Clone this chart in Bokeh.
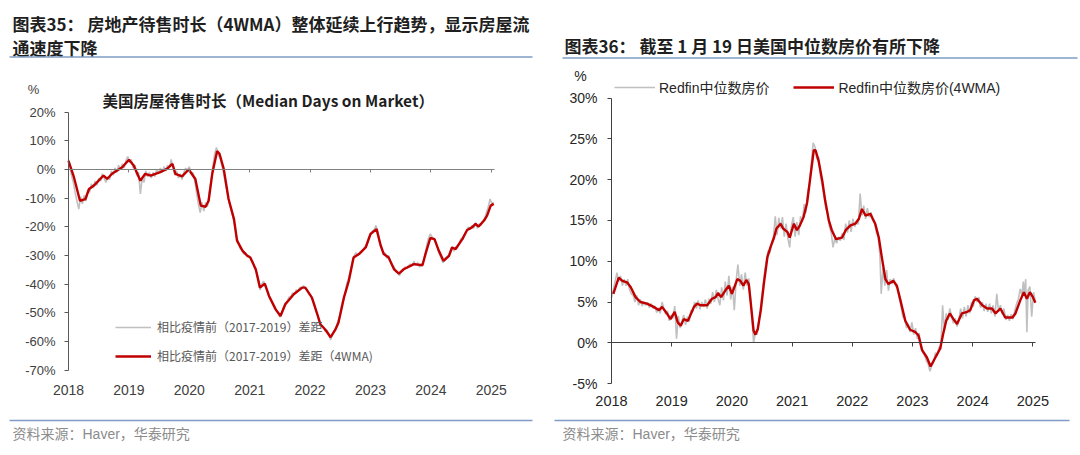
from bokeh.plotting import figure
from bokeh.models import (FixedTicker, Label, BoxAnnotation, Legend, LegendItem,
                          PrintfTickFormatter, LinearAxis)
from bokeh.layouts import row
from bokeh.embed import file_html
from bokeh.resources import INLINE

# ---------------- data ----------------
years = [2018, 2019, 2020, 2021, 2022, 2023, 2024, 2025]
left_yticks = [20, 10, 0, -10, -20, -30, -40, -50, -60, -70]
right_yticks = [30, 25, 20, 15, 10, 5, 0, -5]

# Chart 35: median days on market vs pre-pandemic (2017-2019), %, 4WMA
left_red_x = [2018.00, 2018.09, 2018.19, 2018.28, 2018.34, 2018.42, 2018.58, 2018.64, 2018.72, 2018.89,
              2019.00, 2019.08, 2019.19, 2019.27, 2019.36, 2019.52, 2019.63, 2019.72, 2019.77, 2019.88,
              2019.99, 2020.10, 2020.19, 2020.27, 2020.32, 2020.38, 2020.46, 2020.50, 2020.57, 2020.65,
              2020.74, 2020.79, 2020.88, 2020.96, 2021.01, 2021.10, 2021.17, 2021.25, 2021.32, 2021.43,
              2021.51, 2021.59, 2021.73, 2021.87, 2021.92, 2022.03, 2022.12, 2022.17, 2022.25, 2022.34,
              2022.42, 2022.47, 2022.56, 2022.64, 2022.72, 2022.81, 2022.92, 2023.00, 2023.10, 2023.17,
              2023.22, 2023.30, 2023.39, 2023.47, 2023.55, 2023.72, 2023.86, 2023.91, 2023.99, 2024.06,
              2024.13, 2024.21, 2024.30, 2024.35, 2024.41, 2024.52, 2024.60, 2024.68, 2024.74, 2024.79,
              2024.88, 2024.93, 2024.99, 2025.04]
left_red_y = [3.0, -2.7, -10.9, -10.3, -6.8, -5.6, -2.1, -3.3, -1.5, 0.8,
              3.4, 1.4, -3.9, -1.5, -2.1, -0.9, 0.2, 2.0, -1.5, -2.4,
              0.0, -3.3, -12.6, -13.0, -10.9, -1.5, 6.4, 5.5, 0.2, -10.3,
              -17.3, -24.8, -28.3, -30.1, -30.7, -34.8, -41.2, -39.8, -44.1, -48.8,
              -51.1, -47.0, -43.5, -41.2, -41.2, -44.7, -50.5, -54.0, -55.8, -58.5,
              -55.8, -53.4, -44.7, -38.9, -30.7, -29.5, -27.2, -22.5, -20.8, -26.6,
              -29.5, -30.7, -34.8, -36.3, -34.8, -33.0, -33.4, -29.5, -23.9, -24.3,
              -28.3, -31.9, -30.1, -27.2, -27.8, -24.3, -21.1, -20.2, -19.0, -19.9,
              -17.8, -16.1, -12.6, -12.0]

left_gray_x = [2018.00, 2018.02, 2018.05, 2018.08, 2018.11, 2018.14, 2018.17, 2018.20, 2018.23, 2018.26,
               2018.29, 2018.32, 2018.35, 2018.38, 2018.41, 2018.44, 2018.47, 2018.50, 2018.53, 2018.56,
               2018.59, 2018.62, 2018.65, 2018.68, 2018.71, 2018.74, 2018.77, 2018.80, 2018.83, 2018.86,
               2018.89, 2018.92, 2018.95, 2018.98, 2019.01, 2019.04, 2019.07, 2019.10, 2019.13, 2019.16,
               2019.19, 2019.22, 2019.25, 2019.28, 2019.31, 2019.34, 2019.37, 2019.40, 2019.43, 2019.46,
               2019.49, 2019.52, 2019.55, 2019.58, 2019.61, 2019.64, 2019.67, 2019.70, 2019.73, 2019.76,
               2019.79, 2019.82, 2019.85, 2019.88, 2019.91, 2019.94, 2019.97, 2020.00, 2020.03, 2020.06,
               2020.09, 2020.12, 2020.15, 2020.18, 2020.21, 2020.24, 2020.27, 2020.30, 2020.33, 2020.36,
               2020.39, 2020.42, 2020.45, 2020.48, 2020.51, 2020.54, 2020.57, 2020.60, 2020.63, 2020.66,
               2020.69, 2020.72, 2020.75, 2020.78, 2020.81, 2020.84, 2020.87, 2020.90, 2020.93, 2020.96,
               2020.99, 2021.02, 2021.05, 2021.08, 2021.11, 2021.14, 2021.17, 2021.20, 2021.23, 2021.26,
               2021.29, 2021.32, 2021.35, 2021.38, 2021.41, 2021.44, 2021.47, 2021.50, 2021.53, 2021.56,
               2021.59, 2021.62, 2021.65, 2021.68, 2021.71, 2021.74, 2021.77, 2021.80, 2021.83, 2021.86,
               2021.89, 2021.92, 2021.95, 2021.98, 2022.01, 2022.04, 2022.07, 2022.10, 2022.13, 2022.16,
               2022.19, 2022.22, 2022.25, 2022.28, 2022.31, 2022.34, 2022.37, 2022.40, 2022.43, 2022.46,
               2022.49, 2022.52, 2022.55, 2022.58, 2022.61, 2022.64, 2022.67, 2022.70, 2022.73, 2022.76,
               2022.79, 2022.82, 2022.85, 2022.88, 2022.91, 2022.94, 2022.97, 2023.00, 2023.03, 2023.06,
               2023.09, 2023.12, 2023.15, 2023.18, 2023.21, 2023.24, 2023.27, 2023.30, 2023.33, 2023.36,
               2023.39, 2023.42, 2023.45, 2023.48, 2023.51, 2023.54, 2023.57, 2023.60, 2023.63, 2023.66,
               2023.69, 2023.72, 2023.75, 2023.78, 2023.81, 2023.84, 2023.87, 2023.90, 2023.93, 2023.96,
               2023.99, 2024.02, 2024.05, 2024.08, 2024.11, 2024.14, 2024.17, 2024.20, 2024.23, 2024.26,
               2024.29, 2024.32, 2024.35, 2024.38, 2024.41, 2024.44, 2024.47, 2024.50, 2024.53, 2024.56,
               2024.59, 2024.62, 2024.65, 2024.68, 2024.71, 2024.74, 2024.77, 2024.80, 2024.83, 2024.86,
               2024.89, 2024.92, 2024.95, 2024.98, 2025.01, 2025.04]
left_gray_y = [3.5, 1.5, -2.0, -4.5, -8.0, -11.0, -13.8, -9.5, -12.0, -9.0,
               -11.0, -7.0, -8.0, -5.0, -6.5, -4.0, -5.5, -3.0, -4.0, -1.5,
               -3.0, -4.5, -2.5, -3.5, -0.5, -2.0, 0.5, -1.0, 1.5, 0.0,
               2.0, 0.5, 3.0, 4.5, 2.5, 3.5, 0.5, 1.5, -2.0, -1.0,
               -8.5, -3.0, -4.5, -0.5, -2.5, -1.0, -3.0, -1.0, -2.5, 0.0,
               -1.5, 0.5, -1.0, 1.0, -0.5, 1.5, 0.5, 3.5, 1.0, -2.0,
               -0.5, -3.0, -1.5, -3.5, -1.0, 0.5, -0.5, 1.0, -1.5, -1.0,
               -4.0, -8.0, -12.0, -15.0, -11.5, -14.5, -11.5, -13.0, -8.0, -4.0,
               1.0, 5.5, 7.7, 5.0, 4.0, 1.5, -1.5, -5.0, -8.5, -11.5,
               -14.0, -16.5, -19.5, -23.0, -25.5, -27.5, -28.0, -29.5, -29.0, -30.5,
               -30.0, -31.5, -32.0, -34.5, -35.5, -38.0, -42.0, -40.0, -39.0, -41.0,
               -42.5, -44.5, -45.5, -47.0, -48.0, -49.5, -50.0, -51.5, -50.0, -48.0,
               -46.5, -46.0, -44.5, -44.5, -43.0, -43.5, -42.0, -42.5, -41.0, -41.5,
               -40.5, -41.5, -42.0, -43.0, -44.0, -45.5, -47.0, -49.5, -51.5, -53.5,
               -54.5, -55.0, -56.5, -56.0, -57.5, -59.5, -57.5, -56.5, -55.0, -53.0,
               -51.0, -47.5, -45.0, -43.0, -39.5, -38.0, -35.0, -32.0, -30.0, -29.0,
               -30.0, -29.0, -28.5, -28.0, -27.0, -26.5, -24.0, -22.5, -21.5, -21.0,
               -19.5, -21.5, -25.5, -27.0, -29.5, -29.0, -31.0, -30.0, -32.0, -33.5,
               -34.0, -35.5, -36.0, -37.0, -35.5, -35.0, -34.0, -34.5, -33.5, -33.0,
               -33.5, -32.0, -33.5, -32.5, -34.0, -33.0, -32.5, -30.0, -26.5, -24.0,
               -22.5, -23.5, -24.5, -25.5, -27.5, -29.5, -31.0, -32.5, -31.0, -30.5,
               -30.0, -28.5, -27.0, -28.5, -27.0, -26.5, -25.5, -24.0, -24.5, -22.5,
               -21.5, -20.0, -21.0, -19.5, -20.5, -18.5, -20.5, -19.0, -19.5, -18.0,
               -17.0, -15.0, -13.0, -10.3, -12.0, -11.5]

# Chart 36: Redfin median sale price, y/y %
right_red_x = [2018.03, 2018.12, 2018.18, 2018.26, 2018.32, 2018.40, 2018.48, 2018.59, 2018.70, 2018.79,
               2018.84, 2018.92, 2018.98, 2019.05, 2019.10, 2019.15, 2019.20, 2019.27, 2019.37, 2019.42,
               2019.48, 2019.59, 2019.67, 2019.73, 2019.77, 2019.82, 2019.89, 2019.95, 2020.00, 2020.09,
               2020.14, 2020.19, 2020.24, 2020.28, 2020.32, 2020.36, 2020.39, 2020.43, 2020.48, 2020.53,
               2020.59, 2020.64, 2020.70, 2020.74, 2020.81, 2020.85, 2020.92, 2020.96, 2021.03, 2021.08,
               2021.13, 2021.19, 2021.25, 2021.31, 2021.36, 2021.39, 2021.44, 2021.50, 2021.55, 2021.61,
               2021.66, 2021.73, 2021.83, 2021.89, 2021.97, 2022.05, 2022.11, 2022.16, 2022.22, 2022.30,
               2022.38, 2022.44, 2022.49, 2022.55, 2022.60, 2022.68, 2022.74, 2022.80, 2022.88, 2022.96,
               2023.05, 2023.10, 2023.16, 2023.24, 2023.30, 2023.38, 2023.46, 2023.51, 2023.56, 2023.62,
               2023.68, 2023.74, 2023.82, 2023.91, 2023.96, 2024.02, 2024.07, 2024.16, 2024.24, 2024.32,
               2024.38, 2024.46, 2024.54, 2024.66, 2024.71, 2024.79, 2024.85, 2024.90, 2024.95, 2025.00,
               2025.04]
right_red_y = [6.0, 8.0, 7.6, 7.4, 6.8, 5.6, 5.0, 4.8, 4.4, 4.0,
               4.4, 3.6, 2.9, 3.8, 2.5, 2.1, 2.9, 2.7, 4.4, 4.8,
               4.6, 4.6, 5.4, 5.6, 6.1, 5.6, 6.4, 7.0, 6.0, 7.8,
               7.6, 7.0, 7.7, 7.2, 4.4, 1.5, 1.0, 1.7, 4.0, 7.2,
               10.5, 11.7, 12.9, 14.0, 14.6, 14.0, 13.6, 12.9, 14.6, 13.8,
               14.4, 15.4, 17.2, 20.7, 23.6, 23.6, 22.3, 19.9, 17.4, 15.0,
               13.8, 12.7, 12.9, 13.8, 14.4, 14.6, 15.2, 16.4, 15.6, 15.8,
               14.6, 12.9, 10.5, 7.8, 7.2, 7.6, 7.0, 5.2, 2.7, 1.6,
               1.3, 0.9, -0.9, -1.8, -2.9, -1.8, -0.7, 1.1, 2.7, 3.6,
               2.9, 2.3, 3.6, 3.8, 4.0, 5.2, 5.4, 4.6, 4.2, 4.2,
               3.6, 4.2, 3.1, 3.1, 3.6, 5.2, 6.2, 5.4, 6.2, 5.6,
               4.9]

right_gray_x = [2018.00, 2018.03, 2018.06, 2018.09, 2018.12, 2018.15, 2018.18, 2018.21, 2018.24, 2018.27,
                2018.30, 2018.33, 2018.36, 2018.39, 2018.42, 2018.45, 2018.48, 2018.51, 2018.54, 2018.57,
                2018.60, 2018.63, 2018.66, 2018.69, 2018.72, 2018.75, 2018.78, 2018.81, 2018.84, 2018.87,
                2018.90, 2018.93, 2018.96, 2018.99, 2019.02, 2019.05, 2019.08, 2019.11, 2019.14, 2019.17,
                2019.20, 2019.23, 2019.26, 2019.29, 2019.32, 2019.35, 2019.38, 2019.41, 2019.44, 2019.47,
                2019.50, 2019.53, 2019.56, 2019.59, 2019.62, 2019.65, 2019.68, 2019.71, 2019.74, 2019.77,
                2019.80, 2019.83, 2019.86, 2019.89, 2019.92, 2019.95, 2019.98, 2020.01, 2020.04, 2020.07,
                2020.10, 2020.13, 2020.16, 2020.19, 2020.22, 2020.25, 2020.28, 2020.31, 2020.34, 2020.36,
                2020.39, 2020.42, 2020.45, 2020.48, 2020.51, 2020.54, 2020.57, 2020.60, 2020.63, 2020.66,
                2020.69, 2020.72, 2020.75, 2020.78, 2020.81, 2020.84, 2020.87, 2020.90, 2020.93, 2020.96,
                2020.99, 2021.02, 2021.05, 2021.08, 2021.11, 2021.14, 2021.17, 2021.20, 2021.23, 2021.26,
                2021.29, 2021.32, 2021.35, 2021.38, 2021.41, 2021.44, 2021.47, 2021.50, 2021.53, 2021.56,
                2021.59, 2021.62, 2021.65, 2021.68, 2021.71, 2021.74, 2021.77, 2021.80, 2021.83, 2021.86,
                2021.89, 2021.92, 2021.95, 2021.98, 2022.01, 2022.04, 2022.07, 2022.10, 2022.13, 2022.16,
                2022.19, 2022.22, 2022.25, 2022.28, 2022.31, 2022.34, 2022.37, 2022.40, 2022.43, 2022.46,
                2022.48, 2022.51, 2022.54, 2022.57, 2022.60, 2022.63, 2022.66, 2022.69, 2022.72, 2022.75,
                2022.78, 2022.81, 2022.84, 2022.87, 2022.90, 2022.93, 2022.96, 2022.99, 2023.02, 2023.05,
                2023.08, 2023.11, 2023.14, 2023.17, 2023.20, 2023.23, 2023.26, 2023.29, 2023.32, 2023.35,
                2023.38, 2023.41, 2023.44, 2023.47, 2023.50, 2023.53, 2023.56, 2023.59, 2023.62, 2023.65,
                2023.68, 2023.71, 2023.74, 2023.77, 2023.80, 2023.83, 2023.86, 2023.89, 2023.92, 2023.95,
                2023.98, 2024.01, 2024.04, 2024.07, 2024.10, 2024.13, 2024.16, 2024.19, 2024.22, 2024.25,
                2024.28, 2024.31, 2024.34, 2024.37, 2024.40, 2024.43, 2024.46, 2024.49, 2024.52, 2024.55,
                2024.58, 2024.61, 2024.64, 2024.67, 2024.70, 2024.73, 2024.76, 2024.79, 2024.82, 2024.84,
                2024.86, 2024.88, 2024.90, 2024.92, 2024.95, 2024.98, 2025.01, 2025.04]
right_gray_y = [5.5, 6.5, 7.5, 8.6, 7.5, 8.2, 7.0, 7.8, 7.0, 7.8,
                6.5, 6.0, 5.8, 5.0, 5.8, 4.6, 5.3, 4.5, 5.0, 4.6,
                4.9, 4.3, 4.8, 4.2, 4.5, 3.7, 4.3, 3.6, 5.0, 4.2,
                3.5, 3.9, 2.7, 3.4, 3.0, 4.5, 0.5, 3.3, 1.8, 2.6,
                3.4, 2.2, 3.2, 2.6, 4.0, 3.8, 5.0, 4.2, 5.2, 4.1,
                5.0, 4.4, 5.3, 4.2, 5.4, 4.8, 6.2, 5.0, 6.5, 5.4,
                4.6, 6.8, 5.2, 7.5, 5.8, 8.2, 5.3, 6.9, 4.0, 7.6,
                9.6, 7.0, 8.4, 6.5, 8.6, 7.0, 7.9, 5.5, 2.2, 0.0,
                1.2, 1.0, 2.8, 4.6, 6.5, 8.5, 10.0, 11.3, 11.0, 12.2,
                13.0, 15.5, 13.2, 15.3, 14.0, 15.4, 13.0, 14.6, 12.8, 11.7,
                14.4, 15.4, 13.0, 14.8, 13.2, 15.5, 14.8, 17.0, 15.9, 18.5,
                19.5, 22.0, 24.5, 24.0, 22.5, 22.8, 20.5, 19.3, 18.0, 16.5,
                15.8, 14.2, 13.5, 11.7, 12.8, 12.2, 13.0, 12.5, 13.4, 12.6,
                14.6, 13.5, 15.0, 13.6, 15.2, 14.2, 15.0, 14.5, 18.3, 15.6,
                16.8, 15.2, 16.5, 15.4, 16.0, 15.0, 14.9, 13.5, 13.0, 10.5,
                6.0, 9.2, 7.0, 8.9, 6.4, 7.8, 7.2, 7.9, 6.9, 6.8,
                5.5, 4.4, 3.2, 2.9, 1.8, 2.3, 1.3, 2.5, 1.0, 1.8,
                0.5, 1.2, -0.6, -1.2, -1.5, -2.2, -2.6, -3.5, -2.8, -2.4,
                -1.2, -1.6, -0.5, -0.8, 4.6, 1.5, 3.6, 2.8, 4.2, 3.2,
                2.4, 3.0, 2.0, 2.9, 4.2, 3.0, 4.4, 3.2, 4.6, 3.6,
                5.0, 4.4, 5.7, 5.0, 5.6, 4.3, 5.0, 3.9, 4.8, 3.8,
                4.8, 3.6, 4.6, 3.2, 6.0, 3.8, 4.6, 3.5, 4.2, 2.8,
                3.4, 2.7, 3.5, 2.9, 4.0, 4.8, 5.4, 6.6, 5.8, 7.5,
                6.0, 7.8, 1.3, 6.4, 6.9, 3.2, 6.2, 5.0]

# ---------------- texts ----------------
left_title_1 = "图表35： 房地产待售时长（4WMA）整体延续上行趋势，显示房屋流"
left_title_2 = "通速度下降"
left_inner_title = "美国房屋待售时长（Median Days on Market）"
left_legend = ["相比疫情前（2017-2019）差距", "相比疫情前（2017-2019）差距（4WMA)"]
right_title = "图表36： 截至 1 月 19 日美国中位数房价有所下降"
right_legend = ["Redfin中位数房价", "Redfin中位数房价(4WMA)"]
source_text = "资料来源：Haver，华泰研究"

# ---------------- styles / layout ----------------
CJK = "Noto Sans CJK SC"
LAT = "Liberation Sans"
MIX = "Liberation Sans, Noto Sans CJK SC"
RED = "#c00000"
GRAY = "#c0c0c0"
RULE = "#7f9cc6"
TXT = "#1f1f1f"
W, H = 540, 455   # each panel, the frame covers the whole panel


def frame_ranges(ax_px, px_per_year, zero_px, px_per_pct):
    x0 = 2018 - ax_px / px_per_year
    x1 = 2018 + (W - ax_px) / px_per_year
    y1 = zero_px / px_per_pct
    y0 = -(H - zero_px) / px_per_pct
    return (x0, x1), (y0, y1)


def base_fig(xr, yr):
    p = figure(width=W, height=H, x_range=xr, y_range=yr,
               output_backend="svg", toolbar_location=None,
               min_border_left=0, min_border_right=0,
               min_border_top=0, min_border_bottom=0)
    p.title.visible = False
    p.xgrid.visible = False
    p.ygrid.visible = False
    p.outline_line_color = None
    p.background_fill_color = "white"
    p.border_fill_color = "white"
    return p


def style_axes(p, yticks, ybounds, xbounds, xlab_loc, axis_color, label_color,
               ysize, xsize, ystand, xstand, ztick):
    ya = p.yaxis[0]
    ya.fixed_location = 2018
    ya.bounds = ybounds
    ya.ticker = FixedTicker(ticks=yticks)
    ya.formatter = PrintfTickFormatter(format="%d%%")
    ya.axis_line_color = axis_color
    ya.major_tick_line_color = axis_color
    ya.major_tick_out = 4
    ya.major_tick_in = 0
    ya.minor_tick_line_color = None
    ya.major_label_standoff = ystand
    ya.major_label_text_font = LAT
    ya.major_label_text_font_size = ysize
    ya.major_label_text_color = label_color

    xa = p.xaxis[0]
    xa.fixed_location = xlab_loc
    xa.ticker = FixedTicker(ticks=years)
    xa.axis_line_color = None
    xa.major_tick_line_color = None
    xa.minor_tick_line_color = None
    xa.major_label_standoff = xstand
    xa.major_label_text_font = LAT
    xa.major_label_text_font_size = xsize
    xa.major_label_text_color = label_color

    za = LinearAxis(fixed_location=0, bounds=xbounds, ticker=FixedTicker(ticks=years))
    za.axis_line_color = axis_color
    za.axis_line_width = 1.2
    za.major_tick_line_color = axis_color
    za.major_tick_out = ztick
    za.major_tick_in = 0
    za.minor_tick_line_color = None
    za.major_label_text_color = None
    za.major_label_text_font_size = "1px"
    p.add_layout(za, "below")


def rule(p, left, right, y):
    p.add_layout(BoxAnnotation(left=left, right=right, bottom=y - 0.8, top=y + 0.8,
                               left_units="screen", right_units="screen",
                               bottom_units="screen", top_units="screen",
                               fill_color=RULE, fill_alpha=1, line_color=None))


def label(p, x, y, text, size, color=TXT, font=CJK, style="normal", align="left"):
    p.add_layout(Label(x=x, y=y, x_units="screen", y_units="screen", text=text,
                       text_font=font, text_font_size=size, text_color=color,
                       text_font_style=style, text_align=align, text_baseline="middle"))


# ================= left chart =================
xr1, yr1 = frame_ranges(68, 60.4, 169, 2.8667)
p1 = base_fig(xr1, yr1)
style_axes(p1, left_yticks, (-70, 20), (2018, 2025.05), -70, "#595959", "#404040",
           "13px", "14px", 9, 9, 3)
p1.xaxis[1].axis_line_color = "#808080"
p1.xaxis[1].major_tick_line_color = "#808080"

g1 = p1.line(left_gray_x, left_gray_y, line_color=GRAY, line_width=1.6)
r1 = p1.line(left_red_x, left_red_y, line_color=RED, line_width=2.4)

leg1 = Legend(items=[LegendItem(label=left_legend[0], renderers=[g1]),
                     LegendItem(label=left_legend[1], renderers=[r1])],
              location=(115, 91), orientation="vertical",
              border_line_color=None, background_fill_alpha=0,
              padding=0, margin=0, spacing=12, glyph_width=36, glyph_height=16,
              label_height=16, label_standoff=6,
              label_text_font=CJK, label_text_font_size="12px", label_text_color="#595959")
p1.add_layout(leg1)

label(p1, 12, 432.5, left_title_1, "17px", style="bold")
label(p1, 12, 408.5, left_title_2, "17px", style="bold")
rule(p1, 9, 532, 398.5)
label(p1, 33, 366.5, "%", "13px", color="#404040", font=LAT, align="center")
label(p1, 102, 355.5, left_inner_title, "15.5px", style="bold")
rule(p1, 9, 532, 35)
label(p1, 12, 21.5, source_text, "14px", color="#8c8c8c", font=MIX)

# ================= right chart =================
xr2, yr2 = frame_ranges(71, 60.2, 342.3, 8.16)
p2 = base_fig(xr2, yr2)
style_axes(p2, right_yticks, (-5, 30), (2018, 2025.04), -5, "#404040", "#262626",
           "14px", "14.5px", 10, 6, 4)

g2 = p2.line(right_gray_x, right_gray_y, line_color=GRAY, line_width=1.6)
r2 = p2.line(right_red_x, right_red_y, line_color=RED, line_width=2.4)

leg2 = Legend(items=[LegendItem(label=right_legend[0], renderers=[g2]),
                     LegendItem(label=right_legend[1], renderers=[r2])],
              location=(74, 358.5), orientation="horizontal",
              border_line_color=None, background_fill_alpha=0,
              padding=0, margin=0, spacing=24, glyph_width=41, glyph_height=16,
              label_height=16, label_standoff=4,
              label_text_font=MIX, label_text_font_size="14px", label_text_color="#262626")
p2.add_layout(leg2)

label(p2, 24, 410, right_title, "17px", style="bold")
rule(p2, 22, 537, 397.5)
label(p2, 40, 380, "%", "14px", color="#262626", font=LAT, align="center")
rule(p2, 14, 529, 35)
label(p2, 22, 21.5, source_text, "14px", color="#8c8c8c", font=MIX)

layout = row(p1, p2)
open("out.html", "w").write(file_html(layout, INLINE))
